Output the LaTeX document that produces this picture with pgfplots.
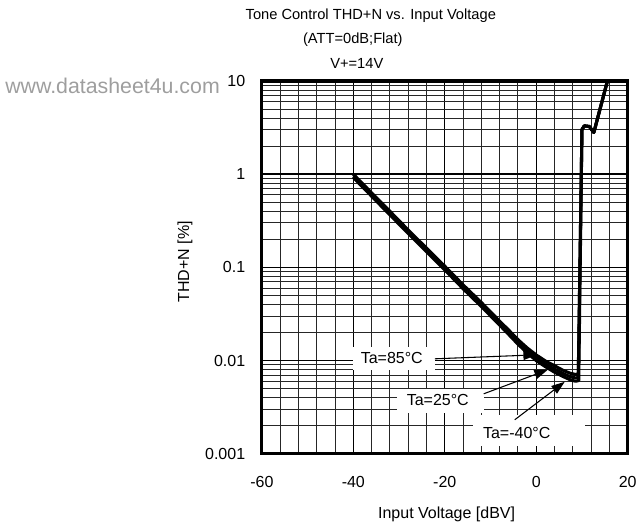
\documentclass[border=0pt]{standalone}
\usepackage{pgfplots}
\pgfplotsset{compat=1.18}
\usepackage{fontspec}
\setmainfont{Liberation Sans}
\usetikzlibrary{arrows.meta}
\begin{document}
\begin{tikzpicture}
% page frame in pixels of the reference (1px = 0.75pt)
\begin{scope}[x=0.75pt,y=-0.75pt]
  \path[use as bounding box] (0,0) rectangle (641,529);
\end{scope}
\begin{axis}[
    at={(196.5pt,-340.5pt)}, anchor=south west,
    scale only axis,
    width=274.5pt, height=279.75pt,
    xmin=-60, xmax=20,
    ymode=log, ymin=0.001, ymax=10,
    xtick={-60,-40,...,20},
    xticklabels={-60,-40,-20,0,20},
    minor xtick={-56,-52,...,16},
    ytick={0.001,0.01,0.1,1,10},
    yticklabels={0.001,0.01,0.1,1,10},
    minor ytick={0.002,0.003,0.004,0.005,0.006,0.007,0.008,0.009,
                 0.02,0.03,0.04,0.05,0.06,0.07,0.08,0.09,
                 0.2,0.3,0.4,0.5,0.6,0.7,0.8,0.9,
                 2,3,4,5,6,7,8,9},
    grid=both,
    major grid style={black, line width=1.0pt},
    minor grid style={black!85, line width=0.65pt},
    major tick length=0pt, minor tick length=0pt,
    axis line style={line width=2.4pt},
    ticklabel style={font=\fontsize{12}{14}\selectfont},
    xticklabel style={anchor=center, yshift=-21pt},
    yticklabel style={anchor=east, xshift=-9pt},
    xlabel={Input Voltage [dBV]},
    ylabel={THD+N [\%]},
    xlabel style={font=\fontsize{12}{14}\selectfont, at={(axis description cs:0.505,-0.1635)}, anchor=center},
    ylabel style={font=\fontsize{12}{14}\selectfont, at={(axis description cs:-0.21,0.515)}, anchor=center, rotate=0},
  ]
  % Ta=85C
  \addplot[black, line width=2.3pt, line join=round] coordinates {
    (-40,1.0) (-36,0.63) (-32,0.40) (-28,0.252) (-24,0.161) (-20,0.103)
    (-16,0.065) (-12,0.042) (-8,0.0265) (-6,0.0212) (-4,0.0168) (-2,0.0137)
    (0,0.0115) (2,0.0099) (4,0.0088) (6,0.0078) (7.5,0.0073) (8.6,0.0071)
    (9.2,0.0072) (10.0,3.0) (10.5,3.3) (11.6,3.25) (12.6,2.8) (15.8,11)
  };
  % Ta=25C
  \addplot[black, line width=2.3pt, line join=round] coordinates {
    (-40,0.95) (-36,0.60) (-32,0.38) (-28,0.24) (-24,0.153) (-20,0.098)
    (-16,0.062) (-12,0.040) (-8,0.025) (-6,0.020) (-4,0.0158) (-2,0.0128)
    (0,0.0107) (2,0.0092) (4,0.0081) (6,0.0072) (7.5,0.0067) (8.6,0.0065)
    (9.2,0.0066) (10.0,3.0) (10.5,3.3) (11.6,3.25) (12.6,2.8) (15.8,11)
  };
  % Ta=-40C
  \addplot[black, line width=2.3pt, line join=round] coordinates {
    (-40,0.92) (-36,0.58) (-32,0.365) (-28,0.232) (-24,0.147) (-20,0.094)
    (-16,0.059) (-12,0.038) (-8,0.024) (-6,0.019) (-4,0.0150) (-2,0.0121)
    (0,0.0100) (2,0.0086) (4,0.0075) (6,0.0067) (7.5,0.0062) (8.6,0.0060)
    (9.3,0.0061) (10.0,3.0) (10.5,3.3) (11.6,3.25) (12.6,2.8) (15.8,11)
  };
\end{axis}
\begin{scope}[x=0.75pt,y=-0.75pt]
  % title
  \node[font=\fontsize{11}{13}\selectfont] at (371,16) {Tone Control THD+N vs. Input Voltage};
  \node[font=\fontsize{11}{13}\selectfont] at (353,40) {(ATT=0dB;Flat)};
  \node[font=\fontsize{11}{13}\selectfont] at (357,63) {V+=14V};
  % watermark
  \node[font=\fontsize{16}{18}\selectfont, text=black!38, anchor=west, inner sep=0pt] at (5,86) {www.datasheet4u.com};
  % temperature labels
  \fill[white] (353,347) rectangle (435,370);
  \node[font=\fontsize{12}{14}\selectfont] at (392,358) {Ta=85°C};
  \draw[line width=0.8pt, -{Triangle[length=10pt,width=7pt]}] (435,359) -- (537,355);
  \fill[white] (397,389) rectangle (484,413);
  \node[font=\fontsize{12}{14}\selectfont] at (438,400) {Ta=25°C};
  \draw[line width=0.8pt, -{Triangle[length=10pt,width=7pt]}] (484,394) -- (548,370);
  \fill[white] (473,415) rectangle (585,446);
  \node[font=\fontsize{12}{14}\selectfont] at (517,433) {Ta=-40°C};
  \draw[line width=0.8pt, -{Triangle[length=10pt,width=7pt]}] (515,420) -- (565,382);
\end{scope}
\end{tikzpicture}
\end{document}
